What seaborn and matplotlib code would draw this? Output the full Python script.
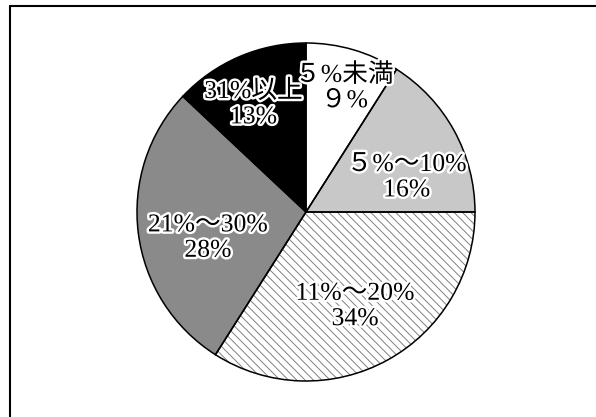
import matplotlib
matplotlib.use("Agg")
import matplotlib.pyplot as plt
import matplotlib.patheffects as pe
from matplotlib.lines import Line2D
import numpy as np
import seaborn as sns

# Share of respondents by rate band
categories = ["５%未満", "５%～10%", "11%～20%", "21%～30%", "31%以上"]
shares = [9, 16, 34, 28, 13]
share_labels = ["９%", "16%", "34%", "28%", "13%"]

sns.set_style("white")
plt.rcParams["font.family"] = ["Liberation Serif", "Noto Sans CJK JP"]
plt.rcParams["hatch.linewidth"] = 0.7

face_colors = ["#ffffff", "#c8c8c8", "#ffffff", "#8a8a8a", "#000000"]
hatches = [None, None, "\\\\\\\\", None, None]
# label placement (fraction of radius, angle shift in degrees)
label_layout = [(0.77, -1.0), (0.63, -10.0), (0.63, -1.3), (0.60, 7.7), (0.71, 2.5)]

fig = plt.figure(figsize=(5.96, 4.17), dpi=100)
W, H = 596, 417
cx, cy, r = 306, 212, 169
ax = fig.add_axes([(cx - r) / W, (H - cy - r) / H, 2 * r / W, 2 * r / H])

# filled wedges (hatch lines drawn in gray, no outline)
wedges, _ = ax.pie(shares, startangle=90, counterclock=False, radius=1,
                   colors=face_colors,
                   wedgeprops=dict(linewidth=0, edgecolor="#808080"))
for w, h in zip(wedges, hatches):
    if h:
        w.set_hatch(h)
        w.set_linewidth(0)
# black outlines on top
outline, _ = ax.pie(shares, startangle=90, counterclock=False, radius=1,
                    colors=["none"] * len(shares),
                    wedgeprops=dict(linewidth=1.1, edgecolor="black", fill=False))

total = sum(shares)
start = 90.0
for cat, val, lab, (rf, dang) in zip(categories, shares, share_labels, label_layout):
    sweep = val / total * 360.0
    mid = np.deg2rad(start - sweep / 2 + dang)
    start -= sweep
    ax.text(rf * np.cos(mid), rf * np.sin(mid), f"{cat}\n{lab}",
            ha="center", va="center", fontsize=18.5, color="black",
            linespacing=1.2,
            path_effects=[pe.withStroke(linewidth=3.5, foreground="white")])

ax.set_xlim(-1, 1)
ax.set_ylim(-1, 1)
ax.set_aspect("equal")
ax.axis("off")

# frame lines along the top and left edges
fx, fy = 10 / W, 1 - 6 / H
fig.add_artist(Line2D([fx, 1.0], [fy, fy], transform=fig.transFigure, color="black", linewidth=1.5))
fig.add_artist(Line2D([fx, fx], [fy, 0.0], transform=fig.transFigure, color="black", linewidth=1.5))

fig.savefig("out.png", dpi=100)
